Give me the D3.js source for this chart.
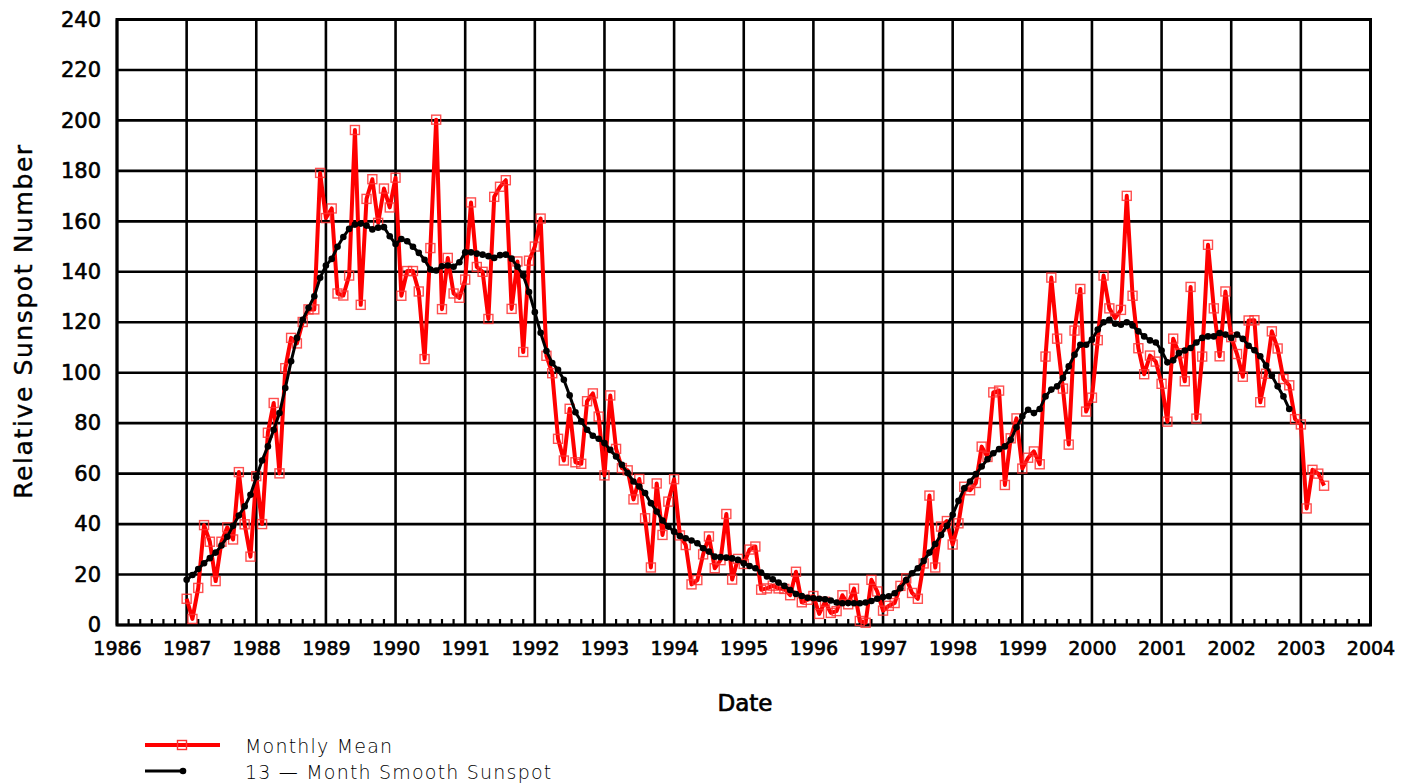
<!DOCTYPE html>
<html>
<head>
<meta charset="utf-8">
<script src="https://cdn.jsdelivr.net/npm/d3@7"></script>
<style>
  html, body { margin: 0; padding: 0; background: #fff; }
  svg { display: block; }
  text { font-family: "DejaVu Sans", sans-serif; fill: #000; }
</style>
</head>
<body>
<svg id="chart" width="1421" height="784"></svg>
<script>
// Monthly mean sunspot number, Jan 1987 .. May 2003 (one value per month)
const monthly1987 = [10.4, 2.4, 14.7, 39.6, 33.0, 17.4, 33.0, 38.7, 33.9, 60.6, 39.9, 27.1];
const monthly1988 = [59.0, 40.0, 76.2, 88.0, 60.1, 101.8, 113.8, 111.6, 120.1, 125.1, 125.1, 179.2];
const monthly1989 = [161.3, 165.1, 131.4, 130.6, 138.5, 196.2, 126.9, 168.9, 176.7, 159.4, 173.0, 165.5];
const monthly1990 = [177.3, 130.5, 140.3, 140.3, 132.2, 105.4, 149.4, 200.3, 125.2, 145.5, 131.4, 129.7];
const monthly1991 = [136.9, 167.5, 141.9, 140.0, 121.3, 169.7, 173.7, 176.3, 125.3, 144.1, 108.2, 144.4];
const monthly1992 = [150.0, 161.1, 106.7, 99.8, 73.8, 65.2, 85.7, 64.5, 63.9, 88.7, 91.8, 82.6];
const monthly1993 = [59.3, 91.0, 69.8, 62.2, 61.3, 49.8, 57.9, 42.3, 22.8, 56.1, 35.7, 48.9];
const monthly1994 = [57.8, 35.5, 31.7, 16.1, 17.8, 28.0, 35.1, 22.5, 25.7, 44.0, 18.0, 26.2];
const monthly1995 = [24.2, 29.9, 31.1, 14.0, 14.5, 15.6, 14.5, 14.3, 11.8, 21.1, 9.0, 10.0];
const monthly1996 = [11.5, 4.4, 9.2, 4.8, 5.5, 11.8, 8.2, 14.4, 1.6, 0.9, 17.9, 13.3];
const monthly1997 = [5.7, 7.6, 8.7, 15.5, 18.5, 12.7, 10.4, 24.4, 51.3, 22.8, 39.0, 41.2];
const monthly1998 = [31.9, 40.3, 54.8, 53.4, 56.3, 70.7, 66.6, 92.2, 92.9, 55.5, 74.0, 81.9];
const monthly1999 = [62.0, 66.3, 68.8, 63.7, 106.4, 137.7, 113.5, 93.7, 71.5, 116.7, 133.2, 84.6];
const monthly2000 = [90.1, 112.9, 138.5, 125.5, 121.6, 124.9, 170.1, 130.5, 109.7, 99.4, 106.8, 104.4];
const monthly2001 = [95.6, 80.6, 113.5, 107.7, 96.6, 134.0, 81.8, 106.4, 150.7, 125.5, 106.5, 132.2];
const monthly2002 = [114.1, 107.4, 98.4, 120.7, 120.8, 88.3, 99.6, 116.4, 109.6, 97.5, 95.0, 81.6];
const monthly2003 = [79.5, 46.2, 61.5, 60.0, 55.2];

// 13-month smoothed sunspot number, Jan 1987 .. Nov 2002
const smooth1987 = [17.9, 19.8, 22.2, 24.5, 26.5, 28.7, 31.5, 35.0, 39.3, 43.4, 47.0, 51.6];
const smooth1988 = [58.6, 65.2, 70.8, 77.4, 84.0, 93.9, 104.5, 113.8, 121.0, 125.7, 130.3, 137.6];
const smooth1989 = [142.5, 145.1, 149.9, 153.8, 157.0, 158.7, 159.1, 158.3, 156.8, 157.5, 157.7, 154.1];
const smooth1990 = [151.0, 153.0, 152.1, 149.9, 147.5, 144.8, 140.9, 140.5, 142.2, 142.5, 142.0, 143.8];
const smooth1991 = [147.7, 147.7, 147.2, 146.8, 146.2, 145.5, 146.6, 146.8, 145.2, 142.0, 138.5, 132.0];
const smooth1992 = [124.0, 115.8, 108.6, 103.8, 101.2, 97.2, 91.0, 84.3, 80.7, 77.4, 75.0, 73.8];
const smooth1993 = [72.1, 69.4, 66.8, 63.5, 60.2, 56.9, 54.9, 52.3, 48.3, 45.0, 41.4, 39.0];
const smooth1994 = [37.0, 35.3, 34.4, 33.5, 32.4, 30.4, 29.1, 27.1, 26.9, 26.7, 26.4, 25.8];
const smooth1995 = [24.5, 23.4, 22.5, 20.8, 19.2, 18.1, 16.8, 15.5, 13.9, 12.3, 11.5, 10.8];
const smooth1996 = [10.6, 10.4, 10.2, 9.7, 8.9, 8.6, 8.7, 8.6, 8.6, 8.9, 9.5, 10.4];
const smooth1997 = [11.1, 11.4, 12.6, 14.6, 17.8, 20.5, 22.5, 25.4, 28.7, 32.1, 35.7, 39.3];
const smooth1998 = [43.7, 49.2, 54.2, 56.9, 59.8, 62.8, 65.7, 68.1, 69.7, 70.8, 73.4, 78.4];
const smooth1999 = [82.7, 85.3, 84.0, 85.6, 90.6, 93.3, 94.6, 97.9, 102.5, 107.1, 111.1, 111.1];
const smooth2000 = [113.1, 117.1, 120.0, 121.0, 119.4, 119.0, 120.0, 118.7, 116.4, 114.4, 112.8, 112.0];
const smooth2001 = [108.8, 104.1, 104.9, 107.8, 108.8, 109.8, 112.0, 113.8, 114.4, 114.4, 115.7, 115.1];
const smooth2002 = [113.8, 115.1, 113.4, 110.7, 108.9, 106.5, 102.8, 98.8, 94.6, 90.6, 85.6];

const startYear = 1987;
const xTickYears = d3.range(1986, 2005);
const yTickValues = d3.range(0, 241, 20);

const legendLabels = ["Monthly Mean", "13 \u2014 Month Smooth Sunspot"];
const xTitle = "Date";
const yTitle = "Relative Sunspot Number";

// Build dated series: month i since Jan 1987 sits at startYear + i/12
const toSeries = arr => arr.map((v, i) => ({ t: startYear + i / 12, v }));
const monthly = toSeries([].concat(monthly1987, monthly1988, monthly1989, monthly1990, monthly1991,
  monthly1992, monthly1993, monthly1994, monthly1995, monthly1996, monthly1997, monthly1998,
  monthly1999, monthly2000, monthly2001, monthly2002, monthly2003));
const smooth = toSeries([].concat(smooth1987, smooth1988, smooth1989, smooth1990, smooth1991,
  smooth1992, smooth1993, smooth1994, smooth1995, smooth1996, smooth1997, smooth1998,
  smooth1999, smooth2000, smooth2001, smooth2002));

const svg = d3.select("#chart");
const plot = { left: 117, right: 1370.5, top: 19.5, bottom: 625 };

const x = d3.scaleLinear().domain([1986, 2004]).range([plot.left, plot.right]);
const y = d3.scaleLinear().domain([0, 240]).range([plot.bottom, plot.top]);

// Grid lines
const grid = svg.append("g");
grid.selectAll("line.v").data(xTickYears).join("line")
  .attr("x1", d => x(d)).attr("x2", d => x(d))
  .attr("y1", plot.top).attr("y2", plot.bottom)
  .attr("stroke", "#000").attr("stroke-width", 2.6);
grid.selectAll("line.h").data(yTickValues).join("line")
  .attr("x1", plot.left).attr("x2", plot.right)
  .attr("y1", d => y(d)).attr("y2", d => y(d))
  .attr("stroke", "#000").attr("stroke-width", 2.6);

// Minor ticks every two months along the bottom
const minor = [];
for (let yr = 1986; yr < 2004; yr++) for (let k = 1; k < 6; k++) minor.push(yr + k / 6);
grid.selectAll("line.minor").data(minor).join("line")
  .attr("x1", d => x(d)).attr("x2", d => x(d))
  .attr("y1", plot.bottom).attr("y2", plot.bottom - 6)
  .attr("stroke", "#000").attr("stroke-width", 2.2);

// Frame
svg.append("rect")
  .attr("x", plot.left).attr("y", plot.top)
  .attr("width", plot.right - plot.left).attr("height", plot.bottom - plot.top)
  .attr("fill", "none").attr("stroke", "#000").attr("stroke-width", 3);

// Axes (labels only; grid draws the tick lines)
const xAxis = svg.append("g").attr("transform", `translate(0,${plot.bottom})`)
  .call(d3.axisBottom(x).tickValues(xTickYears).tickFormat(d3.format("d")).tickSize(0).tickPadding(14));
const yAxis = svg.append("g").attr("transform", `translate(${plot.left},0)`)
  .call(d3.axisLeft(y).tickValues(yTickValues).tickSize(0).tickPadding(16));
[xAxis, yAxis].forEach(a => {
  a.select(".domain").remove();
  a.selectAll("text").attr("font-family", "DejaVu Sans")
    .attr("stroke", "#000").attr("stroke-width", 0.6);
});
xAxis.selectAll("text").attr("font-size", 19).attr("dy", "0.84em");
yAxis.selectAll("text").attr("font-size", 21).attr("dy", "0.32em");

// Axis titles
svg.append("text").attr("x", 745).attr("y", 711).attr("text-anchor", "middle")
  .attr("font-size", 23).attr("stroke", "#000").attr("stroke-width", 0.7).text(xTitle);
svg.append("text").attr("transform", `translate(32,${321}) rotate(-90)`)
  .attr("text-anchor", "middle").attr("font-size", 25).attr("letter-spacing", 1.6)
  .attr("stroke", "#000").attr("stroke-width", 0.4).text(yTitle);

// Monthly mean: red line with open squares
const line = d3.line().x(d => x(d.t)).y(d => y(d.v));
svg.append("path").datum(monthly).attr("d", line)
  .attr("fill", "none").attr("stroke", "#ff0000").attr("stroke-width", 4)
  .attr("stroke-linejoin", "round");
const sq = 9;
svg.append("g").selectAll("rect").data(monthly).join("rect")
  .attr("x", d => x(d.t) - sq / 2).attr("y", d => y(d.v) - sq / 2)
  .attr("width", sq).attr("height", sq)
  .attr("fill", "none").attr("stroke", "#ff3030").attr("stroke-width", 1.4).attr("stroke-opacity", 0.85);

// 13-month smoothed: black line with dots
svg.append("path").datum(smooth).attr("d", line)
  .attr("fill", "none").attr("stroke", "#000").attr("stroke-width", 3);
svg.append("g").selectAll("circle").data(smooth).join("circle")
  .attr("cx", d => x(d.t)).attr("cy", d => y(d.v)).attr("r", 3.3).attr("fill", "#000");

// Legend
const lg = svg.append("g");
lg.append("line").attr("x1", 145).attr("x2", 220).attr("y1", 745).attr("y2", 745)
  .attr("stroke", "#ff0000").attr("stroke-width", 4);
lg.append("rect").attr("x", 182 - sq / 2).attr("y", 745 - sq / 2).attr("width", sq).attr("height", sq)
  .attr("fill", "none").attr("stroke", "#ff3030").attr("stroke-width", 1.4);
lg.append("line").attr("x1", 145).attr("x2", 183).attr("y1", 771).attr("y2", 771)
  .attr("stroke", "#000").attr("stroke-width", 3);
lg.append("circle").attr("cx", 183).attr("cy", 771).attr("r", 3.3).attr("fill", "#000");
lg.selectAll("text").data(legendLabels).join("text")
  .attr("x", 245).attr("y", (d, i) => 753 + i * 26)
  .attr("font-size", 19).attr("font-family", "DejaVu Sans").attr("font-weight", 300)
  .attr("letter-spacing", 1.2).text(d => d);
</script>
</body>
</html>
